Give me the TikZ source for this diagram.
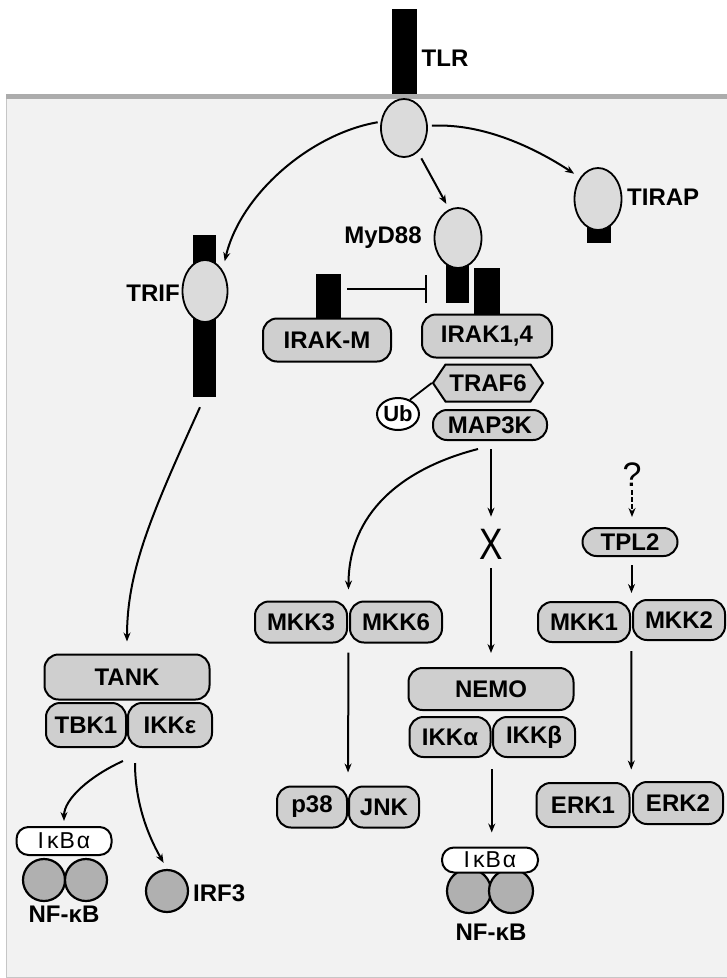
\documentclass[tikz,border=0pt]{standalone}
\usepackage{graphicx}
\usepackage{fontspec}
\setmainfont{Liberation Sans}
\usetikzlibrary{shapes.geometric,shapes.symbols,arrows.meta,calc}
\begin{document}
\begin{tikzpicture}[x=1pt,y=-1pt,
  pill/.style={draw, line width=2pt, fill=gray!38, rounded corners=14pt, inner sep=0pt, font=\fontsize{24}{24}\selectfont\bfseries},
  ibox/.style={draw, line width=2pt, fill=white, rounded corners=12pt, inner sep=0pt, font=\fontsize{23}{23}\selectfont},
  dark/.style={circle, draw, line width=2.2pt, fill=gray!62, minimum size=42pt, inner sep=0pt},
  ell/.style={ellipse, draw, line width=1.8pt, fill=gray!28, inner sep=0pt},
  blackbar/.style={fill=black, inner sep=0pt, draw=none},
  lbl/.style={font=\fontsize{24}{24}\selectfont\bfseries, inner sep=0pt},
  arr/.style={line width=2pt, -{Stealth[length=9pt,width=7pt]}},
  inh/.style={line width=1.8pt, -{Bar[width=28pt,line width=2pt]}}
]
\useasboundingbox (0,0) rectangle (727,978);
% background
\fill[white] (0,0) rectangle (727,978);
\fill[gray!10] (6,96) rectangle (727,977);
\draw[gray!45, line width=0.8pt] (6,96) -- (6,977) -- (727,977);

% black bars
\node[blackbar, minimum width=25pt, minimum height=87pt] (tlrbar) at (404.5,52.5) {};
\node[blackbar, minimum width=23pt, minimum height=162pt] (trifbar) at (204.5,316) {};
\node[blackbar, minimum width=23pt, minimum height=43pt] (myd88bar) at (457.5,281.5) {};
\node[blackbar, minimum width=26pt, minimum height=46pt] (irak14bar) at (487,291) {};
\node[blackbar, minimum width=25pt, minimum height=45pt] (irakmbar) at (328.5,296.5) {};
\node[blackbar, minimum width=24pt, minimum height=17pt] (tirapbar) at (599,234.5) {};

% membrane
\fill[gray!65] (6,93.5) rectangle (727,98.5);

% ellipses
\node[ell, minimum width=46pt, minimum height=58pt] (tlrE) at (404,128) {};
\node[ell, minimum width=47pt, minimum height=60pt] (myd88E) at (458,238) {};
\node[ell, minimum width=45pt, minimum height=62pt] (trifE) at (205,291) {};
\node[ell, minimum width=47pt, minimum height=62pt] (tirapE) at (598,199) {};

% labels
\node[lbl] (tlrL) at (445,58) {TLR};
\node[lbl] (myd88L) at (383,238) {MyD88};
\node[lbl, anchor=east] (trifL) at (180,293) {TRIF};
\node[lbl, anchor=west] (tirapL) at (627,197) {TIRAP};

% pills
\node[pill, minimum width=128pt, minimum height=43pt] (irakm) at (327,340) {IRAK-M};
\node[pill, minimum width=130pt, minimum height=43pt] (irak14) at (487,336) {IRAK1,4};
\node[signal, signal to=west and east, signal pointer angle=112, draw, line width=2pt, fill=gray!38, minimum width=110pt, minimum height=37pt, inner sep=0pt, font=\fontsize{24}{24}\selectfont\bfseries] (traf6) at (488,383) {TRAF6};
\node[ellipse, draw, line width=2pt, fill=white, minimum width=42pt, minimum height=32pt, inner sep=0pt, font=\fontsize{22}{22}\selectfont\bfseries] (ub) at (398,414) {Ub};
\node[pill, minimum width=114pt, minimum height=30pt] (map3k) at (490,425) {MAP3K};
\node[pill, minimum width=95pt, minimum height=28pt] (tpl2) at (630,542) {TPL2};

\node[pill, minimum width=165pt, minimum height=45pt] (tank) at (127,677) {TANK};
\node[pill, minimum width=80pt, minimum height=44pt] (tbk1) at (86,725) {TBK1};
\node[pill, minimum width=84pt, minimum height=44pt] (ikke) at (170,725) {IKKε};

\node[pill, minimum width=165pt, minimum height=42pt] (nemo) at (491,689) {NEMO};
\node[pill, minimum width=81pt, minimum height=40pt] (ikka) at (450,737) {IKKα};
\node[pill, minimum width=82pt, minimum height=40pt] (ikkb) at (534,737) {IKKβ};

\node[pill, minimum width=92pt, minimum height=41pt] (mkk3) at (301,622) {MKK3};
\node[pill, minimum width=92pt, minimum height=41pt] (mkk6) at (396,622) {MKK6};
\node[pill, minimum width=92pt, minimum height=40pt] (mkk1) at (584,622) {MKK1};
\node[pill, minimum width=92pt, minimum height=40pt] (mkk2) at (679,620) {MKK2};
\node[pill, minimum width=70pt, minimum height=41pt] (p38) at (312,807) {p38};
\node[pill, minimum width=70pt, minimum height=41pt] (jnk) at (384,807) {JNK};
\node[pill, minimum width=93pt, minimum height=44pt] (erk1) at (583,805) {ERK1};
\node[pill, minimum width=90pt, minimum height=42pt] (erk2) at (678,803) {ERK2};

% NF-kB complexes
\node[dark] (nfL1) at (44,880) {};
\node[dark] (nfL2) at (86,880) {};
\node[ibox, minimum width=95pt, minimum height=28pt] (ibaL) at (64,841) {I\kern3ptκ\kern1ptB\kern2ptα};
\node[lbl] (nfLt) at (64,914) {NF-κB};
\node[dark] (irf3) at (167,891) {};
\node[lbl, anchor=west] (irf3L) at (193,893) {IRF3};

\node[dark, minimum size=44pt] (nfM1) at (469,891) {};
\node[dark, minimum size=44pt] (nfM2) at (511,891) {};
\node[ibox, minimum width=96pt, minimum height=25pt] (ibaM) at (490,860) {I\kern3ptκ\kern1ptB\kern2ptα};
\node[lbl] (nfMt) at (491,932) {NF-κB};

% X and ?
\node[font=\fontsize{44}{44}\selectfont, inner sep=0pt] (xn) at (491,544) {\scalebox{0.8}[1]{X}};
\node[font=\fontsize{34}{34}\selectfont, inner sep=0pt] (q) at (632,475) {?};

% junction coordinates
\coordinate (mkk36n) at ($(mkk3.north east)!.5!(mkk6.north west)$);
\coordinate (mkk36s) at ($(mkk3.south east)!.5!(mkk6.south west)$);
\coordinate (pjn) at ($(p38.north east)!.5!(jnk.north west)$);
\coordinate (mkk12n) at ($(mkk1.north east)!.5!(mkk2.north west)$);
\coordinate (mkk12s) at ($(mkk1.south east)!.5!(mkk2.south west)$);
\coordinate (erkn) at ($(erk1.north east)!.5!(erk2.north west)$);
\coordinate (ikks) at ($(ikka.south east)!.5!(ikkb.south west)$);
\coordinate (tankj) at ($(tbk1.south east)!.5!(ikke.south west)$);

% connectors
\draw[arr, shorten <=3pt, shorten >=9pt] (tlrE.165) .. controls +(-70,12) and +(18,-76) .. (trifE.50);
\draw[arr, shorten <=4pt, shorten >=7pt] (tlrE.5) .. controls +(60,-3) and +(-38,-25) .. (tirapE.130);
\draw[arr, shorten <=7pt, shorten >=6pt] (tlrE.300) -- (myd88E.107);
\draw[inh] ([xshift=6pt,yshift=7.5pt]irakmbar.east) -- ([xshift=-19pt,yshift=-7.5pt]myd88bar.west);
\draw[line width=1.8pt] (ub.50) -- (traf6.west);

\draw[arr, shorten <=8pt, shorten >=12pt] (map3k.south -| xn) -- (xn.north);
\draw[arr, shorten <=9pt, shorten >=14pt] (xn.south) -- (nemo.north -| xn);
\draw[arr] ([shift={(-12pt,-8pt)}]map3k.south) .. controls +(-78,20) and +(0,-75) .. ([yshift=11pt]mkk36n);
\draw[arr, dash pattern=on 5pt off 2pt, shorten <=3pt, shorten >=10pt] (q.south) -- (tpl2.north -| q);
\draw[arr, shorten <=8pt, shorten >=7pt] (tpl2.south -| mkk12n) -- (mkk12n);
\draw[arr, shorten <=9pt, shorten >=13pt] (mkk36s) -- (pjn);
\draw[arr, shorten <=9pt, shorten >=12pt] (mkk12s) -- (erkn);
\draw[arr, shorten <=11pt, shorten >=14pt] (ikks) -- (ibaM.north -| ikks);

\draw[arr, shorten <=11pt, shorten >=12pt] (trifbar.south) .. controls +(-53,117) and +(0,-83) .. (tank.north);
\draw[arr, shorten >=5pt] ([shift={(-4pt,-13pt)}]tankj) .. controls +(-33,15) and +(0,-27) .. (ibaL.north);
\draw[arr, shorten >=7pt] ([shift={(8pt,-15pt)}]tankj) .. controls +(0,48) and +(-13,-23) .. (irf3.north);
\end{tikzpicture}
\end{document}
